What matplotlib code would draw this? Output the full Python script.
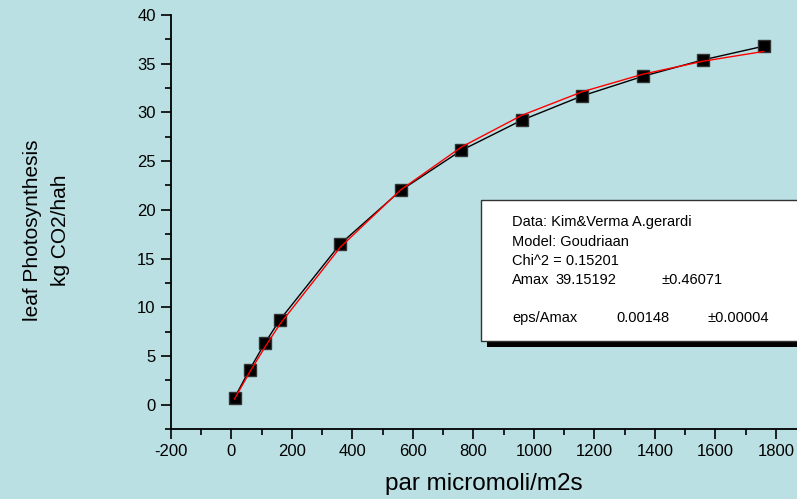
import matplotlib
matplotlib.use("Agg")
import matplotlib.pyplot as plt
from matplotlib.patches import Rectangle
from matplotlib.ticker import MultipleLocator

plt.rcParams['font.family'] = ['Liberation Sans', 'DejaVu Sans']
plt.rcParams['axes.unicode_minus'] = False

# measured data (Kim & Verma, A. gerardi)
par = [10, 60, 110, 160, 360, 560, 760, 960, 1160, 1360, 1560, 1760]
photo = [0.7, 3.6, 6.3, 8.7, 16.5, 22.0, 26.1, 29.2, 31.7, 33.7, 35.4, 36.8]
# Goudriaan fit read at the same par values
fit = [0.58, 3.33, 5.88, 8.26, 16.17, 22.06, 26.44, 29.70, 32.12, 33.92, 35.26, 36.26]

info_lines = ["Data: Kim&Verma A.gerardi", "Model: Goudriaan", "Chi^2 = 0.15201"]
params = [("Amax", "39.15192", "\u00b10.46071"), ("eps/Amax", "0.00148", "\u00b10.00004")]

bg = '#bae0e3'
W, H = 797, 499
fig = plt.figure(figsize=(W / 100, H / 100), dpi=100, facecolor=bg)
ax = fig.add_axes([171 / W, 1 - 429 / H, (W - 171) / W, (429 - 15) / H])
ax.set_facecolor(bg)

ax.plot(par, photo, color='black', lw=1.0, marker='s', ms=8,
        mfc='black', mec='#333333', zorder=3)
ax.plot(par, fit, color='red', lw=1.0, zorder=4)

ax.set_xlim(-200, 1870)
ax.set_ylim(-2.5, 40)
ax.xaxis.set_major_locator(MultipleLocator(200))
ax.xaxis.set_minor_locator(MultipleLocator(100))
ax.yaxis.set_major_locator(MultipleLocator(5))
ax.yaxis.set_minor_locator(MultipleLocator(2.5))
for s in ['top', 'right']:
    ax.spines[s].set_visible(False)
for s in ['left', 'bottom']:
    ax.spines[s].set_linewidth(1.3)
ax.tick_params(which='major', direction='out', length=7, width=1.2, labelsize=12, pad=4)
ax.tick_params(which='minor', direction='out', length=4, width=1.2)

ax.set_xlabel("par micromoli/m2s", fontsize=17.5, labelpad=10)
fig.text(47 / W, 1 - 230 / H, "leaf Photosynthesis\nkg CO2/hah", fontsize=15,
         rotation=90, ha='center', va='center', multialignment='center', linespacing=1.6)

# fit info box with drop shadow
fig.patches.append(Rectangle((487 / W, 1 - 347 / H), (W - 487 + 10) / W, (347 - 206) / H,
                             transform=fig.transFigure, facecolor='black', edgecolor='none', zorder=5))
fig.patches.append(Rectangle((481 / W, 1 - 341 / H), (W - 481 + 10) / W, (341 - 200) / H,
                             transform=fig.transFigure, facecolor='white', edgecolor='#333333',
                             lw=1.0, zorder=6))
fs = 10.5
ys = [222, 242, 261]
for t, y in zip(info_lines, ys):
    fig.text(512 / W, 1 - y / H, t, fontsize=fs, va='center', zorder=7)
for (name, val, err), y in zip(params, [280, 318]):
    fig.text(512 / W, 1 - y / H, name, fontsize=fs, va='center', zorder=7)
    vx = 555 if name == "Amax" else 616
    ex = 662 if name == "Amax" else 707
    fig.text(vx / W, 1 - y / H, val, fontsize=fs, va='center', zorder=7)
    fig.text(ex / W, 1 - y / H, err, fontsize=fs, va='center', zorder=7)

fig.savefig("out.png", dpi=100, facecolor=bg)
